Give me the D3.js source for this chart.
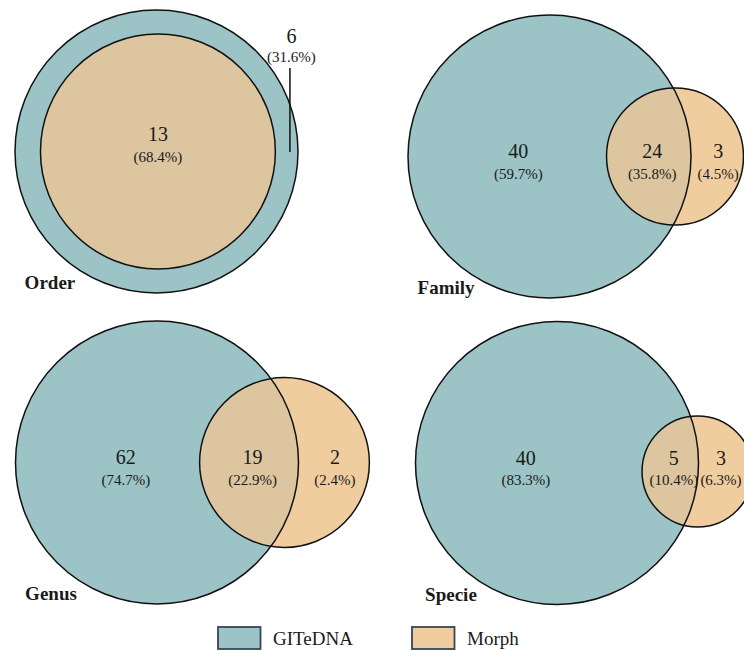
<!DOCTYPE html>
<html>
<head>
<meta charset="utf-8">
<script src="https://cdn.jsdelivr.net/npm/d3@7"></script>
<style>
  html, body { margin: 0; padding: 0; background: #fff; }
  svg { display: block; }
  text { font-family: "Liberation Serif", "Times New Roman", serif; fill: #1a1a1a; }
</style>
</head>
<body>
<svg id="chart" width="744" height="651"></svg>
<script>
// Taxa shared between GITeDNA and morphological identification, per rank
const categories  = ["Order", "Family", "Genus", "Specie"];
const setNames    = ["GITeDNA", "Morph"];
const onlyGITeDNA = [6, 40, 62, 40];
const shared      = [13, 24, 19, 5];
const onlyMorph   = [0, 3, 2, 3];

// Panel geometry: centre of the GITeDNA circle in px, Morph circle in units of the GITeDNA radius
const R = 141.5;
const layout = [
  { cx: 156.5, cy: 151.5, mr: 0.830, mdx: 0.010, mdy: 0.000 },
  { cx: 549.5, cy: 156.5, mr: 0.484, mdx: 0.887, mdy: 0.000 },
  { cx: 157.0, cy: 462.5, mr: 0.600, mdx: 0.901, mdy: 0.000 },
  { cx: 557.0, cy: 463.0, mr: 0.392, mdx: 0.993, mdy: 0.060 }
];

const colors = { GITeDNA: "#9cc3c6", Morph: "#f0cd9f", both: "#ddc69f" };
const pct = d3.format(".1%");
const width = 744;

const svg = d3.select("#chart");
const defs = svg.append("defs");

categories.forEach((cat, i) => {
  const L = layout[i];
  const total = onlyGITeDNA[i] + shared[i] + onlyMorph[i];
  const x = d3.scaleLinear().domain([-1, 1]).range([L.cx - R, L.cx + R]);
  const y = d3.scaleLinear().domain([-1, 1]).range([L.cy - R, L.cy + R]);
  const r = d3.scaleLinear().domain([0, 1]).range([0, R]);

  const big = { cx: x(0), cy: y(0), r: r(1) };
  const small = { cx: x(L.mdx), cy: y(L.mdy), r: r(L.mr) };
  const nested = onlyMorph[i] === 0;

  const g = svg.append("g").attr("class", "panel");

  g.append("circle").attr("cx", big.cx).attr("cy", big.cy).attr("r", big.r)
    .attr("fill", colors.GITeDNA);
  g.append("circle").attr("cx", small.cx).attr("cy", small.cy).attr("r", small.r)
    .attr("fill", colors.Morph);

  const clipId = "clip-" + i;
  defs.append("clipPath").attr("id", clipId)
    .append("circle").attr("cx", big.cx).attr("cy", big.cy).attr("r", big.r);
  g.append("circle").attr("cx", small.cx).attr("cy", small.cy).attr("r", small.r)
    .attr("fill", colors.both).attr("clip-path", `url(#${clipId})`);

  [big, small].forEach(c => {
    g.append("circle").attr("cx", c.cx).attr("cy", c.cy).attr("r", c.r)
      .attr("fill", "none").attr("stroke", "#111").attr("stroke-width", 1.5);
  });

  function label(px, numBase, pctBase, value) {
    g.append("text").attr("x", px).attr("y", numBase).attr("text-anchor", "middle")
      .attr("font-size", 20).text(value);
    g.append("text").attr("x", px).attr("y", pctBase).attr("text-anchor", "middle")
      .attr("font-size", 15).text("(" + pct(value / total) + ")");
  }

  if (nested) {
    // Morph sits inside GITeDNA: shared count in the middle, GITeDNA-only outside with a leader
    label(small.cx, small.cy - 11, small.cy + 10.5, shared[i]);
    const lx = x(0.943);
    label(lx + 1.5, y(-0.768), y(-0.63), onlyGITeDNA[i]);
    g.append("line").attr("x1", lx).attr("x2", lx)
      .attr("y1", y(-0.59)).attr("y2", y(0.003))
      .attr("stroke", "#111").attr("stroke-width", 1.5);
  } else {
    const nb = big.cy + 1.5, pb = big.cy + 22;
    label(x(-0.22), nb, pb, onlyGITeDNA[i]);
    const lensMid = ((small.cx - small.r) + (big.cx + big.r)) / 2 + 3.5;
    label(lensMid, nb, pb, shared[i]);
    // keep the Morph-only label inside the page
    const morphMid = Math.min(((big.cx + big.r) + (small.cx + small.r)) / 2 + 1, width - 23);
    label(morphMid, nb, pb, onlyMorph[i]);
  }

  g.append("text").attr("x", x(-0.932)).attr("y", y(0.975))
    .attr("font-size", 19).attr("font-weight", "bold").text(cat);
});

// Legend
const legendX = d3.scalePoint().domain(setNames).range([218, 412]);
const legend = svg.append("g").attr("class", "legend");
setNames.forEach(name => {
  legend.append("rect").attr("x", legendX(name)).attr("y", 627)
    .attr("width", 42.5).attr("height", 22)
    .attr("fill", colors[name]).attr("stroke", "#33475a").attr("stroke-width", 1.8);
  legend.append("text").attr("x", legendX(name) + 55).attr("y", 645)
    .attr("font-size", 19).text(name);
});
</script>
</body>
</html>
